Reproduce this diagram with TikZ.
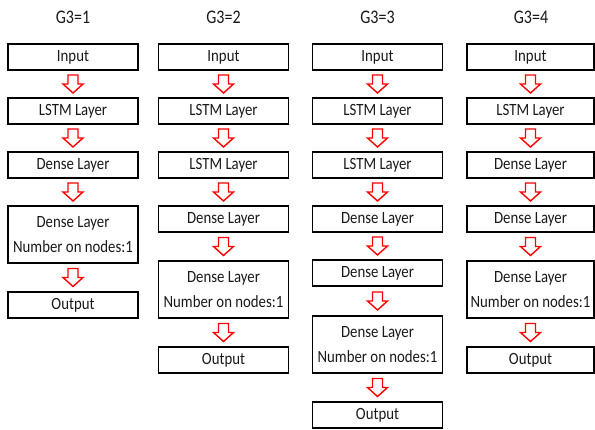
\documentclass[tikz,border=0pt]{standalone}
\usepackage{fontspec}
\setmainfont{Carlito}
\usetikzlibrary{calc}
\newcommand\st[1]{\scalebox{1}[1.16]{#1}}
\newcommand\ttlsc[1]{\scalebox{1}[1.2]{#1}}
\tikzset{
  box/.style={draw=black, line width=1.6pt, minimum width=130pt, minimum height=26pt,
    inner sep=0pt, font=\fontsize{14.8}{17}\selectfont, text=black!90},
  box2/.style={box, minimum height=57pt, align=center, font=\fontsize{14.8}{25}\selectfont},
  ttl/.style={font=\fontsize{16}{19}\selectfont, text=black!90},
  harrow/.style={draw=red, line width=1.4pt, fill=white, line join=miter}
}
\newcommand\harw[2]{%
  \coordinate (hm) at ($(#1.south)!0.5!(#2.north)$);
  \draw[harrow] ($(hm)+(-5,-9)$) -- ++(0,9) -- ++(-5,0) -- ++(10,9) -- ++(10,-9) -- ++(-5,0) -- ++(0,-9) -- cycle;}
\begin{document}
\begin{tikzpicture}[x=1pt,y=-1pt]
\useasboundingbox (0,0) rectangle (595,429);
% column 1
\node[ttl] (t1) at (73,17) {\ttlsc{G3=1}};
\node[box] (a1) at (73,57) {\st{Input}};
\node[box] (a2) at (73,111) {\st{LSTM Layer}};
\node[box] (a3) at (73,165) {\st{Dense Layer}};
\node[box2] (a4) at (73,234.5) {\st{Dense Layer}\\\st{Number on nodes:1}};
\node[box] (a5) at (73,305) {\st{Output}};
\harw{a1}{a2}\harw{a2}{a3}\harw{a3}{a4}\harw{a4}{a5}
% column 2
\node[ttl] (t2) at (223.5,17) {\ttlsc{G3=2}};
\node[box] (b1) at (223.5,57) {\st{Input}};
\node[box] (b2) at (223.5,111) {\st{LSTM Layer}};
\node[box] (b3) at (223.5,165) {\st{LSTM Layer}};
\node[box] (b4) at (223.5,219) {\st{Dense Layer}};
\node[box2] (b5) at (223.5,289.5) {\st{Dense Layer}\\\st{Number on nodes:1}};
\node[box] (b6) at (223.5,360) {\st{Output}};
\harw{b1}{b2}\harw{b2}{b3}\harw{b3}{b4}\harw{b4}{b5}\harw{b5}{b6}
% column 3
\node[ttl] (t3) at (377.5,17) {\ttlsc{G3=3}};
\node[box] (c1) at (377.5,57) {\st{Input}};
\node[box] (c2) at (377.5,111) {\st{LSTM Layer}};
\node[box] (c3) at (377.5,165) {\st{LSTM Layer}};
\node[box] (c4) at (377.5,219) {\st{Dense Layer}};
\node[box] (c5) at (377.5,273) {\st{Dense Layer}};
\node[box2] (c6) at (377.5,344.5) {\st{Dense Layer}\\\st{Number on nodes:1}};
\node[box] (c7) at (377.5,415) {\st{Output}};
\harw{c1}{c2}\harw{c2}{c3}\harw{c3}{c4}\harw{c4}{c5}\harw{c5}{c6}\harw{c6}{c7}
% column 4
\node[ttl] (t4) at (531,17) {\ttlsc{G3=4}};
\node[box, minimum width=127pt] (d1) at (530.5,57) {\st{Input}};
\node[box, minimum width=127pt] (d2) at (530.5,111) {\st{LSTM Layer}};
\node[box, minimum width=127pt] (d3) at (530.5,165) {\st{Dense Layer}};
\node[box, minimum width=127pt] (d4) at (530.5,219) {\st{Dense Layer}};
\node[box2, minimum width=127pt] (d5) at (530.5,289.5) {\st{Dense Layer}\\\st{Number on nodes:1}};
\node[box, minimum width=127pt] (d6) at (530.5,360) {\st{Output}};
\harw{d1}{d2}\harw{d2}{d3}\harw{d3}{d4}\harw{d4}{d5}\harw{d5}{d6}
\end{tikzpicture}
\end{document}
